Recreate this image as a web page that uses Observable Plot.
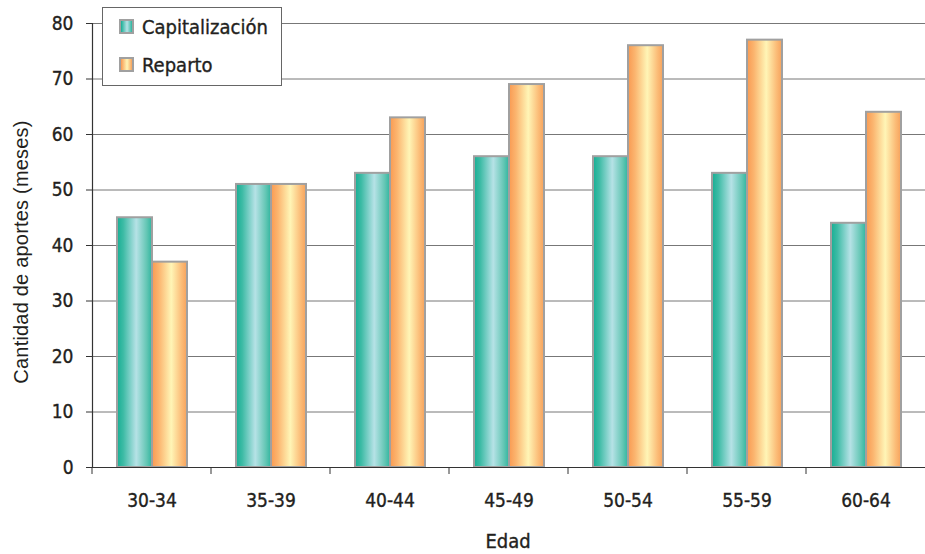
<!DOCTYPE html>
<html>
<head>
<meta charset="utf-8">
<script src="https://cdn.jsdelivr.net/npm/d3@7"></script>
<script src="https://cdn.jsdelivr.net/npm/@observablehq/plot@0.6"></script>
<style>
  html, body { margin: 0; padding: 0; background: #fff; }
  #wrap { position: relative; width: 925px; height: 554px; font-family: "DejaVu Sans Condensed", "DejaVu Sans", sans-serif; color: #231f20; }
  #wrap svg g[aria-label="y-axis tick label"] text,
  #wrap svg g[aria-label="fx-axis tick label"] text { stroke: #231f20; stroke-width: 0.35px; }
  .legend { position: absolute; left: 102px; top: 7px; width: 178px; height: 77px; background: #fff; border: 1px solid #666; }
  .item { position: absolute; left: 16px; font-size: 20px; line-height: 20px; white-space: nowrap; -webkit-text-stroke: 0.35px #231f20; }
  .sw { display: inline-block; width: 11px; height: 11px; border: 2px solid #a0a0a0; vertical-align: middle; margin-right: 8px; position: relative; top: -2px; -webkit-text-stroke: 0; }
  .ylabel { position: absolute; left: 21px; top: 252px; transform: translate(-50%, -50%) rotate(-90deg); font-family: "Liberation Sans", Arial, sans-serif; font-size: 20px; letter-spacing: 0.2px; white-space: nowrap; }
  .xlabel { position: absolute; left: 508px; top: 541px; transform: translate(-50%, -50%); font-size: 20px; white-space: nowrap; -webkit-text-stroke: 0.35px #231f20; }
</style>
</head>
<body>
<svg width="0" height="0" style="position:absolute">
  <defs>
    <linearGradient id="gTeal" x1="0" y1="0" x2="1" y2="0">
      <stop offset="0" stop-color="#17ae94"/>
      <stop offset="0.18" stop-color="#3dbba5"/>
      <stop offset="0.55" stop-color="#b6e2e6"/>
      <stop offset="0.85" stop-color="#63c6b4"/>
      <stop offset="1" stop-color="#2fb59f"/>
    </linearGradient>
    <linearGradient id="gOrange" x1="0" y1="0" x2="1" y2="0">
      <stop offset="0" stop-color="#f99a52"/>
      <stop offset="0.2" stop-color="#fbb56f"/>
      <stop offset="0.55" stop-color="#fff5b6"/>
      <stop offset="0.85" stop-color="#fbbb76"/>
      <stop offset="1" stop-color="#f6a25c"/>
    </linearGradient>
  </defs>
</svg>
<div id="wrap"></div>
<script>
const edades = ["30-34", "35-39", "40-44", "45-49", "50-54", "55-59", "60-64"];
const series = ["Capitalización", "Reparto"];
const capitalizacion = [45, 51, 53, 56, 56, 53, 44];
const reparto = [37, 51, 63, 69, 76, 77, 64];
const yTicks = [0, 10, 20, 30, 40, 50, 60, 70, 80];
const gridValues = [10, 20, 30, 40, 50, 60, 70, 80];

const data = [];
edades.forEach((e, i) => {
  data.push({edad: e, serie: series[0], valor: capitalizacion[i]});
  data.push({edad: e, serie: series[1], valor: reparto[i]});
});

// small tick at the left boundary of each age group, below the baseline
function boundaryTicks(index, scales) {
  const r = scales.x && scales.x.range ? scales.x.range() : [0, 0];
  const x0 = Math.min(r[0], r[1]);
  const y0 = scales.y(0);
  const line = document.createElementNS("http://www.w3.org/2000/svg", "line");
  line.setAttribute("x1", x0); line.setAttribute("x2", x0);
  line.setAttribute("y1", y0); line.setAttribute("y2", y0 + 7);
  line.setAttribute("stroke", "#333");
  line.setAttribute("stroke-width", 1);
  return line;
}

const chart = Plot.plot({
  width: 925,
  height: 554,
  marginLeft: 92,
  marginRight: 0,
  marginTop: 23,
  marginBottom: 87,
  style: {fontFamily: "'DejaVu Sans Condensed', 'DejaVu Sans', sans-serif", color: "#231f20", background: "transparent", overflow: "visible"},
  fx: {domain: edades, padding: 0, label: null},
  x: {domain: series, paddingInner: 0, paddingOuter: 0.676, axis: null},
  y: {domain: [0, 80], axis: null},
  marks: [
    Plot.ruleY(gridValues, {stroke: "#777", strokeWidth: 1}),
    Plot.barY(data, {filter: d => d.serie === series[0], fx: "edad", x: "serie", y: "valor", fill: "url(#gTeal)", stroke: "#a0a0a0", strokeWidth: 2}),
    Plot.barY(data, {filter: d => d.serie === series[1], fx: "edad", x: "serie", y: "valor", fill: "url(#gOrange)", stroke: "#a0a0a0", strokeWidth: 2}),
    Plot.ruleY([0], {stroke: "#333", strokeWidth: 1.2}),
    boundaryTicks,
    Plot.frame({anchor: "left", fx: [edades[0]], stroke: "#333", strokeWidth: 1.2}),
    Plot.axisY(yTicks, {tickSize: 6, tickPadding: 13, fontSize: 19, stroke: "#333", label: null}),
    Plot.axisFx({anchor: "bottom", tickSize: 0, tickPadding: 26, fontSize: 19, label: null})
  ]
});

const wrap = document.getElementById("wrap");
wrap.appendChild(chart);

const legend = document.createElement("div");
legend.className = "legend";
legend.innerHTML =
  `<div class="item" style="top:9px"><span class="sw" style="background:linear-gradient(to right,#17ae94,#b6e2e6 55%,#2fb59f)"></span>${series[0]}</div>` +
  `<div class="item" style="top:47px"><span class="sw" style="background:linear-gradient(to right,#f99a52,#fff5b6 55%,#f6a25c)"></span>${series[1]}</div>`;
wrap.appendChild(legend);

const yl = document.createElement("div");
yl.className = "ylabel";
yl.textContent = "Cantidad de aportes (meses)";
wrap.appendChild(yl);

const xl = document.createElement("div");
xl.className = "xlabel";
xl.textContent = "Edad";
wrap.appendChild(xl);
</script>
</body>
</html>
